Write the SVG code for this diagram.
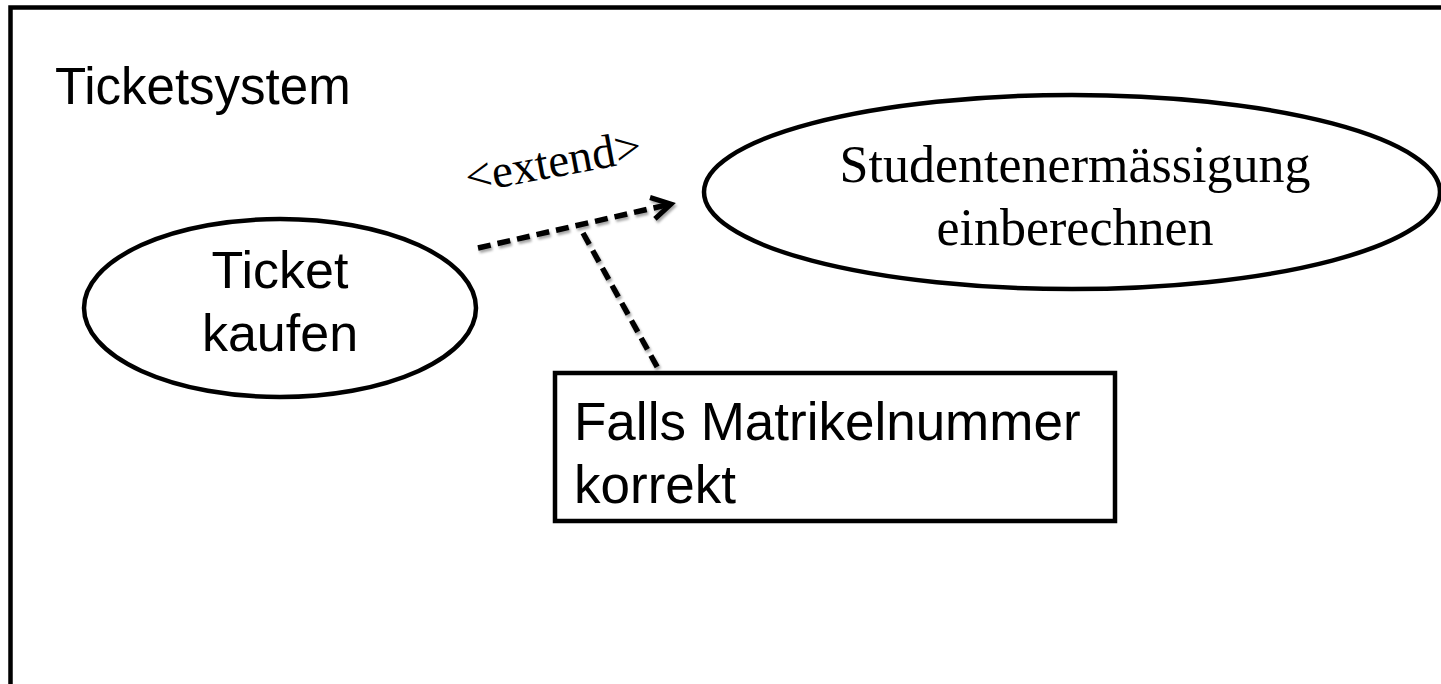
<svg xmlns="http://www.w3.org/2000/svg" width="1441" height="684" viewBox="0 0 1441 684">
  <style>
    .sans { font-family: "Liberation Sans", Arial, sans-serif; fill: #000; }
    .serif { font-family: "Liberation Serif", "Times New Roman", serif; fill: #000; }
    .shape { fill: #fff; stroke: #000; stroke-width: 4.5; }
    .dash { fill: none; stroke: #000; stroke-width: 5.5; stroke-dasharray: 13 7; }
  </style>
  <defs>
    <filter id="soft-shadow" x="-10%" y="-10%" width="120%" height="130%">
      <feDropShadow dx="1.5" dy="2.5" stdDeviation="1" flood-color="#000" flood-opacity="0.35"/>
    </filter>
    <marker id="open-arrow" markerUnits="userSpaceOnUse" markerWidth="32" markerHeight="32" refX="23" refY="13" orient="auto" viewBox="0 0 32 26">
      <path d="M4,2 L23,13 L4,24" fill="none" stroke="#000" stroke-width="5" stroke-linejoin="miter"/>
    </marker>
  </defs>

  <rect width="1441" height="684" fill="#fff"/>

  <!-- system boundary -->
  <g id="system">
    <rect x="10.5" y="7.5" width="1500" height="800" fill="none" stroke="#000" stroke-width="4.5"/>
    <text class="sans" x="55" y="104" font-size="51">Ticketsystem</text>
  </g>

  <!-- use case: Ticket kaufen -->
  <g id="uc-ticket-kaufen">
    <ellipse class="shape" cx="280" cy="308" rx="196" ry="89"/>
    <text class="sans" x="280" y="288" font-size="52" text-anchor="middle">Ticket</text>
    <text class="sans" x="280" y="351" font-size="52" text-anchor="middle">kaufen</text>
  </g>

  <!-- use case: Studentenermässigung einberechnen -->
  <g id="uc-studentenermaessigung">
    <ellipse class="shape" cx="1072" cy="192" rx="368" ry="97"/>
    <text class="serif" x="1075" y="182" font-size="52" text-anchor="middle">Studentenermässigung</text>
    <text class="serif" x="1075" y="245" font-size="52" text-anchor="middle">einberechnen</text>
  </g>

  <!-- condition note -->
  <g id="note-bedingung">
    <rect class="shape" x="555" y="373" width="560" height="148"/>
    <text class="sans" x="574" y="440" font-size="53">Falls Matrikelnummer</text>
    <text class="sans" x="574" y="503" font-size="53">korrekt</text>
  </g>

  <!-- connectors: extend relation and its condition anchor -->
  <g id="connectors">
    <g filter="url(#soft-shadow)">
      <line class="dash" x1="478" y1="248" x2="671" y2="204" marker-end="url(#open-arrow)"/>
      <line class="dash" x1="583" y1="233" x2="660" y2="372"/>
    </g>
    <text class="serif" x="556" y="177" font-size="47" text-anchor="middle" transform="rotate(-10.5 556 177)">&lt;extend&gt;</text>
  </g>
</svg>
